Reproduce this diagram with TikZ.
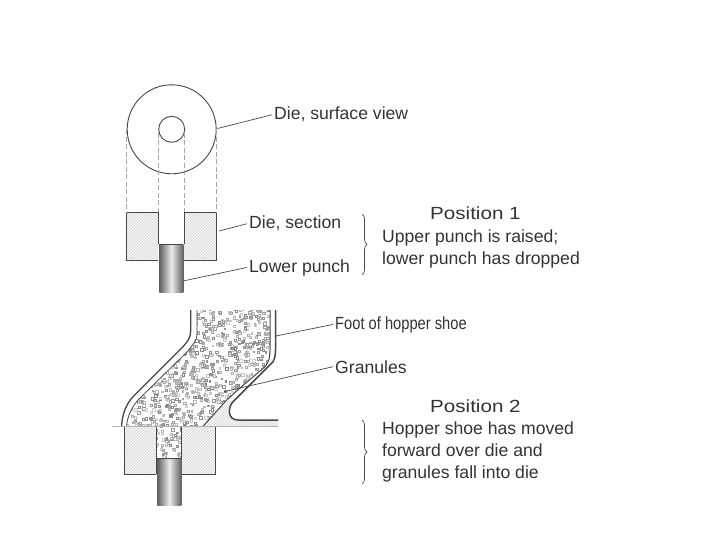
\documentclass[tikz,border=0pt]{standalone}
\usepackage{fontspec}
\setmainfont{Liberation Sans}
\usetikzlibrary{patterns,decorations.pathreplacing}
\definecolor{ink}{gray}{0.28}
\definecolor{txt}{gray}{0.2}
\definecolor{hatchc}{gray}{0.82}
\tikzset{
 lab/.style={font=\fontsize{17.6}{20}\selectfont,text=txt,inner sep=0pt,anchor=base west},
 lead/.style={draw=ink,line width=0.7pt},
 outl/.style={draw=ink,line width=0.9pt},
 wall/.style={draw=ink,line width=1pt},
 proj/.style={draw=gray!70,line width=0.7pt,dash pattern=on 5pt off 2.5pt},
 hatched/.style={preaction={fill=gray!6},pattern=north east lines,pattern color=hatchc},
 brc/.style={draw=ink,line width=0.7pt,decorate,decoration={brace,amplitude=5pt}},
}
\begin{document}
\begin{tikzpicture}[x=1pt,y=-1pt]
\useasboundingbox (0,0) rectangle (720,540);
\pgfmathsetseed{4711}
% die, surface view
\node[circle,draw=ink,line width=0.9pt,minimum size=89pt,inner sep=0pt] (outer) at (171.7,129.3) {};
\node[circle,draw=ink,line width=0.9pt,minimum size=26pt,inner sep=0pt] (inner) at (171.7,129.3) {};
% die, section
\path[hatched] (126,212) rectangle (158,260) (184,212) rectangle (216.7,260);
\draw[outl] (158,260) -- (126,260) -- (126,212) -- (158,212) -- (158,244);
\draw[outl] (184,244) -- (184,212) -- (216.7,212) -- (216.7,260) -- (184,260);
\draw[proj] (126,129.3) -- (126,212);
\draw[proj] (216.7,129.3) -- (216.7,212);
\draw[proj] (158,133) -- (158,212);
\draw[proj] (184,133) -- (184,212);
% lower punch
\shade[left color=gray!75!black,right color=gray!75!black,middle color=gray!15] (159.3,244) rectangle (183.3,292);
\draw[draw=ink,line width=0.8pt] (159.3,244) -- (183.3,244);
% hopper shoe: granule fill
\def\hopper{(197,310) -- (197,333) .. controls (197,342) and (192,345) .. (188,351) -- (138,400) .. controls (131,408) and (127,418) .. (126.7,426) -- (156.3,426) -- (156.3,458) -- (181.7,458) -- (181.7,426) -- (203.3,426) -- (226.7,400) -- (240,388) -- (265,366.7) .. controls (269,362) and (270,357) .. (270,350) -- (270,310) -- cycle}
\begin{scope}
\clip \hopper;
\fill[white] \hopper;
\foreach \i in {1,...,1500}{
 \pgfmathsetmacro{\gx}{125+rnd*150}
 \pgfmathsetmacro{\gy}{308+rnd*152}
 \pgfmathsetmacro{\gs}{1.4+rnd*1.3}
 \pgfmathsetmacro{\gg}{18+rnd*30}
 \draw[black!\gg,line width=0.7pt] (\gx,\gy) rectangle ++(\gs,\gs);
}
\end{scope}
% lower die section
\path[hatched] (124.3,426) rectangle (156.3,474) (181.7,426) rectangle (215,474);
\draw[outl] (156.3,474) -- (124.3,474) -- (124.3,426);
\draw[outl] (215,426) -- (215,474) -- (181.7,474);
\draw[outl] (156.3,426) -- (156.3,474);
\draw[outl] (181.7,426) -- (181.7,474);
% lower punch (bottom)
\shade[left color=gray!75!black,right color=gray!75!black,middle color=gray!15] (157.3,458) rectangle (181.3,505.7);
\draw[draw=ink,line width=0.8pt] (157.3,458) -- (181.3,458);
% hopper walls
\path[hatched] (203.3,426) -- (226.7,400) -- (233,401.7) .. controls (228,407) and (227,420) .. (238,420) -- (278,420) -- (278,426) -- cycle;
\draw[wall,line width=1.3pt] (190.7,310) -- (190.7,331) .. controls (190.7,338) and (187,342) .. (183,346.7) -- (133,396.7) .. controls (126,404) and (121.7,416) .. (121.7,426);
\draw[wall,line width=0.8pt] (197,310) -- (197,333) .. controls (197,342) and (192,345) .. (188,351) -- (138,400) .. controls (131,408) and (127,418) .. (126.7,426);
\draw[wall,line width=1.5pt] (275.5,310) -- (275.5,350) .. controls (275.5,355) and (275,358) .. (273,361.7) -- (248,386.7) -- (233,401.7) .. controls (228,407) and (227,420) .. (238,420) -- (278,420);
\draw[wall,line width=1pt] (270,310) -- (270,350) .. controls (270,357) and (269,362) .. (265,366.7) -- (240,388) -- (226.7,400) -- (203.3,426);
\draw[draw=gray!60,line width=0.7pt] (112,426) -- (278,426);
% labels
\node[lab] (t1) at (274,120) {Die, surface view};
\node[lab] (t2) at (249,229) {Die, section};
\node[lab] (t3) at (249,272) {Lower punch};
\node[lab] (t4) at (335,329) {\scalebox{0.835}[1]{Foot of hopper shoe}};
\node[lab] (t5) at (335,373) {Granules};
\node[lab] (h1) at (430,220) {\scalebox{1.17}[1]{Position 1}};
\node[lab] (h2) at (382,242) {Upper punch is raised;};
\node[lab] (h3) at (382,264) {lower punch has dropped};
\node[lab] (h4) at (430,412) {\scalebox{1.17}[1]{Position 2}};
\node[lab] (h5) at (382,434) {Hopper shoe has moved};
\node[lab] (h6) at (382,456) {forward over die and};
\node[lab] (h7) at (382,478) {granules fall into die};
% leaders
\coordinate (a1) at (217.5,128.5);
\coordinate (a2) at (219,231);
\coordinate (a3) at (183,281);
\coordinate (a4) at (276,336);
\coordinate (a5) at (224,391.7);
\draw[lead] (a1) -- ([xshift=-2pt]t1.west);
\draw[lead] (a2) -- ([xshift=-2pt]t2.west);
\draw[lead] (a3) -- ([xshift=-2pt]t3.west);
\draw[lead] (a4) -- ([xshift=-2pt]t4.west);
\draw[lead] (a5) -- ([xshift=-2pt]t5.west);
% braces
\coordinate (b1) at (362,214);\coordinate (b2) at (362,275);
\coordinate (b3) at (362,420);\coordinate (b4) at (362,484);
\draw[brc] (b1) -- (b2);
\draw[brc] (b3) -- (b4);
\end{tikzpicture}
\end{document}
